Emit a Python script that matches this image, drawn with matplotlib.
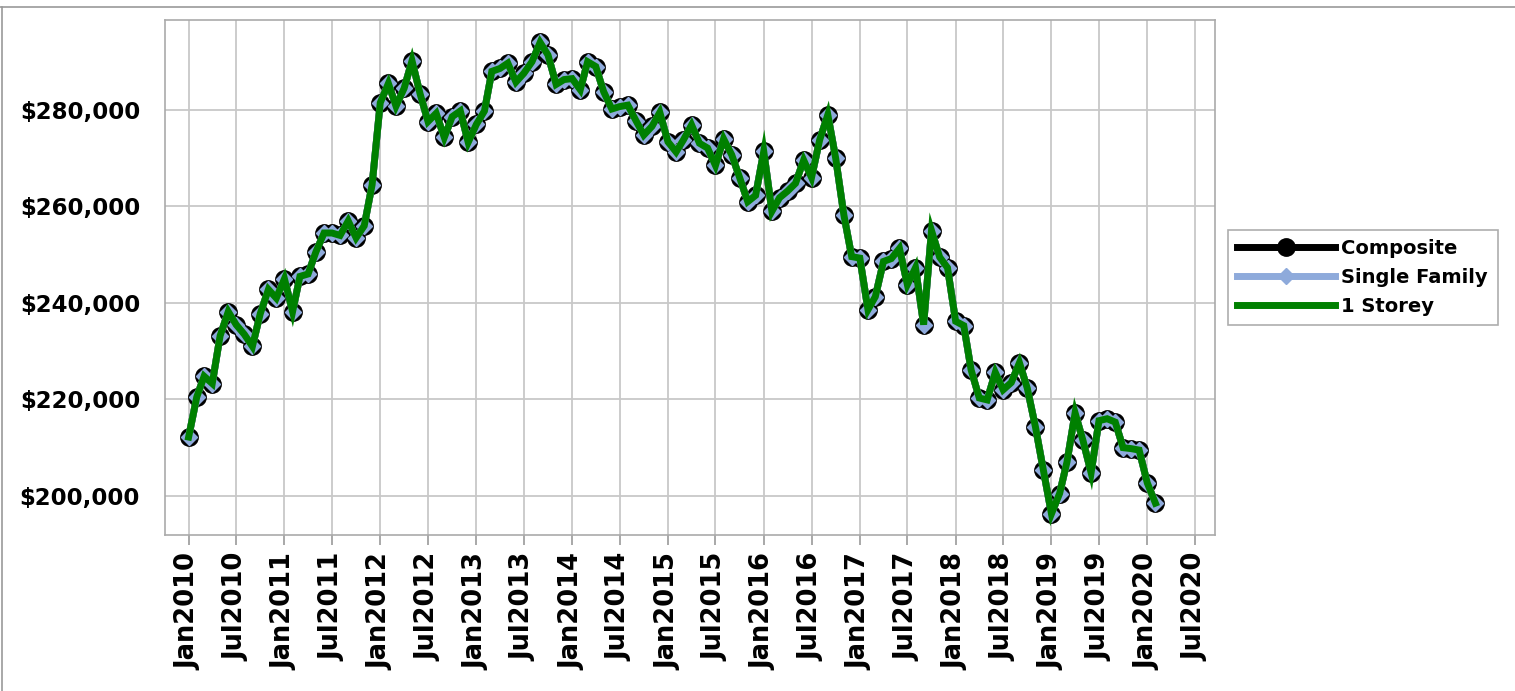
import matplotlib
matplotlib.use("Agg")
import matplotlib.pyplot as plt
import matplotlib.dates as mdates
from matplotlib.lines import Line2D
import pandas as pd

plt.rcParams['font.family'] = ['DejaVu Sans']

# Monthly benchmark prices (thousands of $), Jan 2010 - Feb 2020
composite = [
    212.2, 220.5, 224.8, 223.3, 233.2, 238.2, 235.5, 233.5, 231.0, 237.8, 242.8, 241.0,
    245.0, 238.2, 245.5, 246.0, 250.6, 254.5, 254.5, 254.0, 257.0, 253.5, 256.0, 264.5,
    281.5, 285.5, 280.8, 284.5, 290.2, 283.3, 277.6, 279.3, 274.3, 278.6, 279.8, 273.3,
    277.0, 279.8, 288.0, 288.6, 289.7, 285.8, 287.6, 290.0, 294.0, 291.4, 285.3, 286.3,
    286.5, 284.2, 290.0, 289.0, 283.8, 280.2, 280.7, 281.0, 277.8, 274.8, 276.6, 279.5,
    273.4, 271.3, 273.8, 276.9, 273.1, 272.1, 268.5, 274.0, 270.7, 266.0, 261.0, 262.3,
    271.4, 259.0, 261.8, 263.2, 264.8, 269.6, 266.0, 273.8, 279.0, 270.0, 258.3, 249.6,
    249.3, 238.6, 241.3, 248.6, 249.2, 251.3, 243.8, 247.3, 235.5, 255.0, 249.5, 247.3,
    236.2, 235.3, 226.1, 220.3, 219.9, 225.6, 222.0, 223.5, 227.6, 222.3, 214.3, 205.4,
    196.3, 200.5, 207.0, 217.2, 211.5, 204.8, 215.6, 216.0, 215.3, 210.0, 209.8, 209.5,
    202.7, 198.5,
]
# The three series coincide in the picture
single_family = list(composite)
one_storey = list(composite)

dates = pd.date_range('2010-01-01', periods=len(composite), freq='MS')
series_names = ['Composite', 'Single Family', '1 Storey']

W, H = 1515, 691
fig = plt.figure(figsize=(W / 100, H / 100), dpi=100)
ax = fig.add_axes([165 / W, 1 - 535 / H, (1215 - 165) / W, (535 - 20) / H])

ax.plot(dates, [v * 1000 for v in composite], color='black', lw=5, marker='o',
        markersize=12.5, markeredgecolor='black', markerfacecolor='black',
        zorder=2, label=series_names[0])
ax.plot(dates, [v * 1000 for v in single_family], color='#8EAADB', lw=5, marker='D',
        markersize=8, markeredgecolor='#8EAADB', markerfacecolor='#8EAADB',
        zorder=3, label=series_names[1])
ax.plot(dates, [v * 1000 for v in one_storey], color='#008000', lw=5,
        solid_joinstyle='miter', zorder=4, label=series_names[2])

ax.set_ylim(191900, 298650)
ax.set_xlim(pd.Timestamp('2009-10-03'), pd.Timestamp('2020-09-15'))
ax.set_yticks([200000, 220000, 240000, 260000, 280000])
ax.yaxis.set_major_formatter(matplotlib.ticker.FuncFormatter(lambda v, p: '${:,.0f}'.format(v)))
ax.xaxis.set_major_locator(mdates.MonthLocator(bymonth=[1, 7]))
ax.xaxis.set_major_formatter(mdates.DateFormatter('%b%Y'))

for lab in ax.get_xticklabels():
    lab.set_rotation(90)
ax.tick_params(axis='x', labelsize=18.5, length=7, color='#999999', width=1.2, pad=6)
ax.tick_params(axis='y', labelsize=16.5, length=0, pad=18)
for lab in ax.get_xticklabels() + ax.get_yticklabels():
    lab.set_fontweight('bold')

ax.grid(True, color='#c8c8c8', lw=1.3)
ax.set_axisbelow(True)
for s in ax.spines.values():
    s.set_color('#aaaaaa')
    s.set_linewidth(1.2)

leg = ax.legend(loc='center left', bbox_to_anchor=(1.012, 0.5), frameon=True,
                fancybox=False, edgecolor='#999999', handlelength=5.0,
                prop={'weight': 'bold', 'size': 14}, borderpad=0.5,
                labelspacing=0.5, handletextpad=0.35, borderaxespad=0)
leg.get_frame().set_linewidth(1.2)

fig.add_artist(Line2D([0, 1], [1 - 7 / H, 1 - 7 / H], transform=fig.transFigure,
                      color='#999999', lw=1.2))
fig.add_artist(Line2D([2 / W, 2 / W], [0, 1 - 7 / H], transform=fig.transFigure,
                      color='#999999', lw=1.2))

fig.savefig('out.png', dpi=100)
